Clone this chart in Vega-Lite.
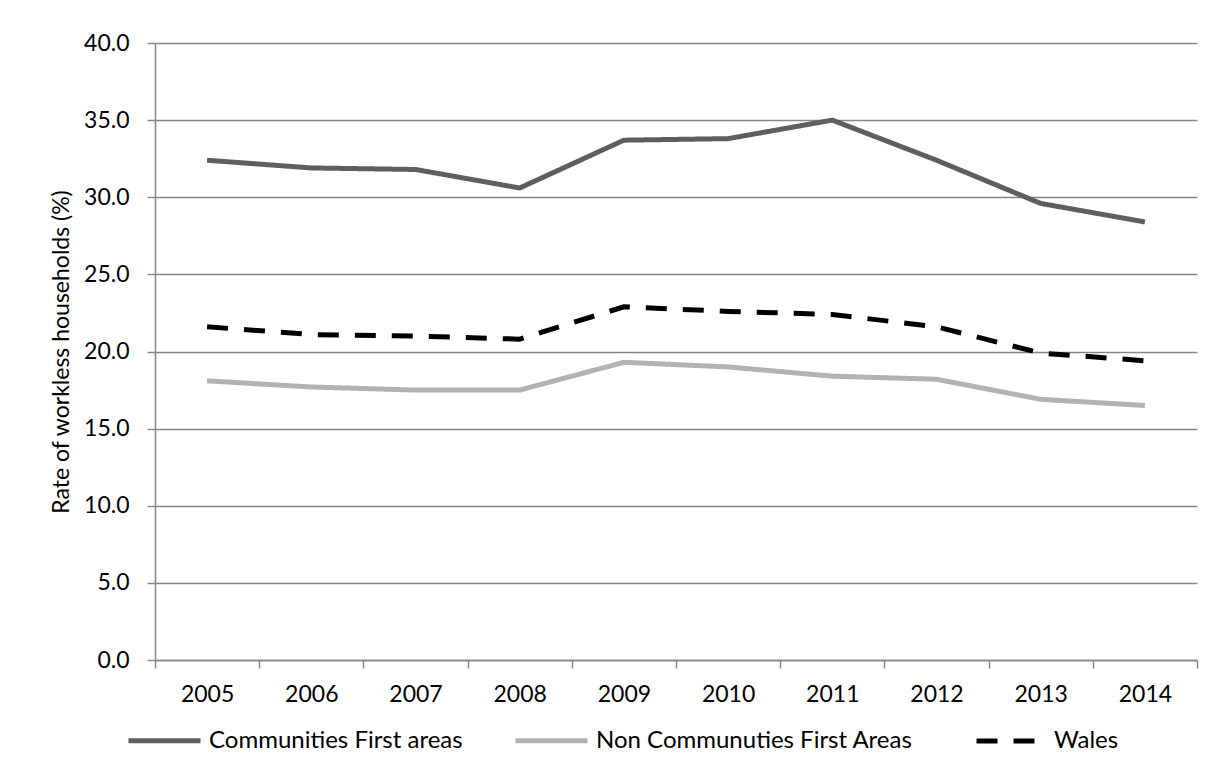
{
  "$schema": "https://vega.github.io/schema/vega-lite/v6.json",
  "width": 1042,
  "height": 617,
  "autosize": "none",
  "padding": {"left": 155, "top": 43, "right": 18, "bottom": 122},
  "background": "white",
  "config": {
    "view": {"stroke": null},
    "font": "Lato",
    "axis": {
      "domainColor": "#868686",
      "domainWidth": 1.5,
      "tickColor": "#868686",
      "tickWidth": 1.5,
      "tickSize": 8,
      "gridColor": "#868686",
      "gridWidth": 1.5,
      "labelFont": "Lato",
      "labelFontSize": 23,
      "labelColor": "#000000",
      "titleFont": "Lato",
      "titleFontSize": 23,
      "titleFontWeight": "normal",
      "titleColor": "#000000"
    },
    "legend": {
      "labelFont": "Lato",
      "labelFontSize": 24,
      "labelColor": "#000000",
      "labelLimit": 0
    }
  },
  "data": {
    "values": [
      {"year": "2005", "series": "Communities First areas", "rate": 32.4},
      {"year": "2006", "series": "Communities First areas", "rate": 31.9},
      {"year": "2007", "series": "Communities First areas", "rate": 31.8},
      {"year": "2008", "series": "Communities First areas", "rate": 30.6},
      {"year": "2009", "series": "Communities First areas", "rate": 33.7},
      {"year": "2010", "series": "Communities First areas", "rate": 33.8},
      {"year": "2011", "series": "Communities First areas", "rate": 35.0},
      {"year": "2012", "series": "Communities First areas", "rate": 32.4},
      {"year": "2013", "series": "Communities First areas", "rate": 29.6},
      {"year": "2014", "series": "Communities First areas", "rate": 28.4},
      {"year": "2005", "series": "Non Communuties First Areas", "rate": 18.1},
      {"year": "2006", "series": "Non Communuties First Areas", "rate": 17.7},
      {"year": "2007", "series": "Non Communuties First Areas", "rate": 17.5},
      {"year": "2008", "series": "Non Communuties First Areas", "rate": 17.5},
      {"year": "2009", "series": "Non Communuties First Areas", "rate": 19.3},
      {"year": "2010", "series": "Non Communuties First Areas", "rate": 19.0},
      {"year": "2011", "series": "Non Communuties First Areas", "rate": 18.4},
      {"year": "2012", "series": "Non Communuties First Areas", "rate": 18.2},
      {"year": "2013", "series": "Non Communuties First Areas", "rate": 16.9},
      {"year": "2014", "series": "Non Communuties First Areas", "rate": 16.5},
      {"year": "2005", "series": "Wales", "rate": 21.6},
      {"year": "2006", "series": "Wales", "rate": 21.1},
      {"year": "2007", "series": "Wales", "rate": 21.0},
      {"year": "2008", "series": "Wales", "rate": 20.8},
      {"year": "2009", "series": "Wales", "rate": 22.9},
      {"year": "2010", "series": "Wales", "rate": 22.6},
      {"year": "2011", "series": "Wales", "rate": 22.4},
      {"year": "2012", "series": "Wales", "rate": 21.6},
      {"year": "2013", "series": "Wales", "rate": 19.9},
      {"year": "2014", "series": "Wales", "rate": 19.4}
    ]
  },
  "mark": {"type": "line", "strokeWidth": 5, "strokeCap": "butt", "strokeJoin": "miter"},
  "encoding": {
    "x": {
      "field": "year",
      "type": "ordinal",
      "scale": {"type": "band", "paddingInner": 0, "paddingOuter": 0},
      "axis": {"title": null, "labelAngle": 0, "tickBand": "extent", "grid": false, "labelPadding": 15}
    },
    "y": {
      "field": "rate",
      "type": "quantitative",
      "scale": {"domain": [0, 40], "nice": false, "zero": true},
      "axis": {
        "values": [0, 5, 10, 15, 20, 25, 30, 35, 40],
        "format": ".1f",
        "title": "Rate of workless households (%)",
        "labelPadding": 18,
        "titlePadding": 10,
        "grid": true
      }
    },
    "color": {
      "field": "series",
      "type": "nominal",
      "scale": {
        "domain": ["Communities First areas", "Non Communuties First Areas", "Wales"],
        "range": ["#5f5f5f", "#b2b2b2", "#000000"]
      },
      "legend": {
        "values": ["Communities First areas", "Non Communuties First Areas"],
        "orient": "none",
        "legendX": -29,
        "legendY": 659,
        "direction": "horizontal",
        "title": null,
        "symbolType": "stroke",
        "symbolSize": 5184,
        "symbolStrokeWidth": 5,
        "labelOffset": 6,
        "columnPadding": 42
      }
    },
    "strokeDash": {
      "field": "series",
      "type": "nominal",
      "scale": {
        "domain": ["Wales", "Communities First areas", "Non Communuties First Areas"],
        "range": [[21, 16], [1, 0], [1, 0]]
      },
      "legend": {
        "values": ["Wales"],
        "orient": "none",
        "legendX": 819,
        "legendY": 666,
        "direction": "horizontal",
        "title": null,
        "symbolType": "stroke",
        "symbolSize": 3481,
        "symbolStrokeWidth": 5,
        "symbolStrokeColor": "#000000",
        "symbolDash": [30, 9],
        "labelOffset": 16
      }
    }
  }
}
